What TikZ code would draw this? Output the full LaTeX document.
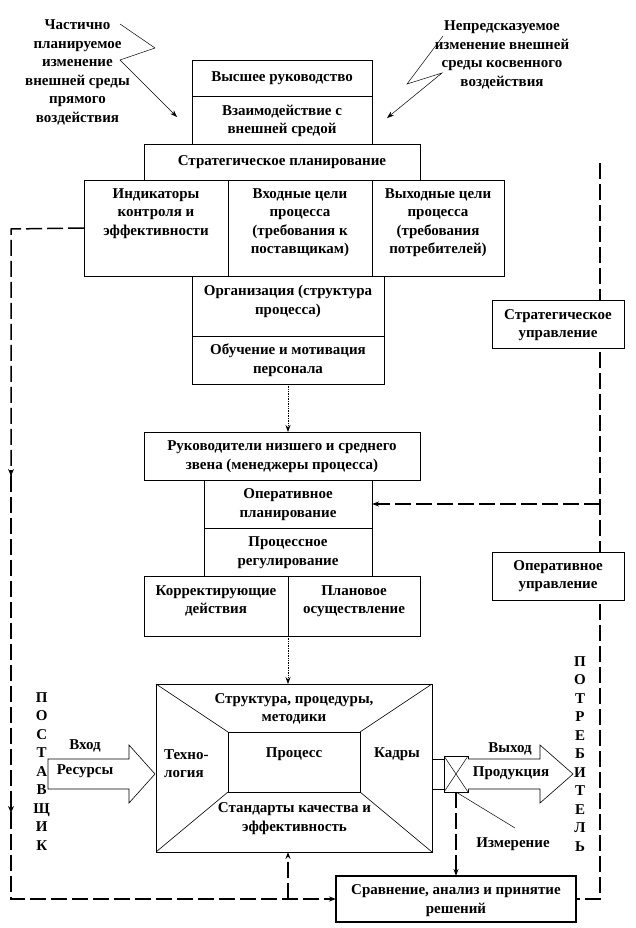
\documentclass[tikz,border=0pt]{standalone}
\usepackage{fontspec}
\setmainfont{Liberation Serif}
\usetikzlibrary{arrows.meta}
\newcommand\bx[6][]{\node[box,#1,minimum width={(#5-#3)*1pt},minimum height={(#6-#4)*1pt}] (#2) at ({(#3+#5)/2},{(#4+#6)/2}) {};}
\begin{document}
\begin{tikzpicture}[x=1pt,y=-1pt,
  box/.style={draw,line width=0.7pt,fill=white,inner sep=0pt,outer sep=0pt},
  txt/.style={align=center,inner sep=0pt,font=\fontsize{15}{18.5}\selectfont\bfseries},
  dl/.style={line width=1.5pt,dash pattern=on 16pt off 5pt},
  dt/.style={line width=0.7pt,densely dotted},
  tip/.style={-{Stealth[length=7pt,width=5pt]}},
  midtip/.style={-{Stealth[length=7pt,width=6pt]},line width=1.5pt},
  ann/.style={line width=0.5pt},
  bigarrow/.style={draw,line width=0.6pt,fill=white}]
\useasboundingbox (0,0) rectangle (636,928);

% ---------- coordinates of the feedback loops ----------
\coordinate (lt) at (11,229);
\coordinate (lm1) at (11,476);
\coordinate (lm2) at (11,813);
\coordinate (lb) at (11,899);
\coordinate (rt) at (600,163);
\coordinate (rb) at (600,899);

% ---------- boxes ----------
\bx{topA}{192}{60}{372}{96}
\bx{topB}{192}{96}{372}{144}
\bx{strat}{144}{144}{420}{180}
\bx{ind}{84}{180}{228}{276}
\bx{inp}{228}{180}{372}{276}
\bx{outp}{372}{180}{504}{276}
\bx{org}{192}{276}{384}{336}
\bx{obuch}{192}{336}{384}{384}
\bx{ruk}{144}{432}{420}{480}
\bx{opl}{204}{480}{372}{528}
\bx{preg}{204}{528}{372}{576}
\bx{korr}{144}{576}{288}{636}
\bx{plan}{288}{576}{420}{636}
\bx{proc}{156}{684}{432}{852}
\bx{procin}{228}{732}{360}{792}
\bx{connr}{432}{759}{444}{789}
\bx{cross}{444}{756}{468}{792}
\bx[line width=2pt]{sr}{336}{876}{576}{922}

\coordinate (lm1a) at (11,470);
\coordinate (lm2a) at (11,807);
\draw[dl] (ind.west) -- (lt) -- (lm1);
\draw[midtip] (lm1a) -- (lm1);
\draw[dl] (lm1) -- (lm2);
\draw[midtip] (lm2a) -- (lm2);
\draw[dl,tip] (lm2) -- (lb) -- (sr.west);
\coordinate (br) at (korr.south east |- lb);
\draw[dl,tip] (br) -- (korr.south east |- proc.south);
\draw[dl] (rt) -- (rb) -- (sr.east);
\draw[dl,tip] (rt |- opl.east) -- (opl.east);
\draw[dl,tip] (cross.south) -- (sr.north);

\bx{stratupr}{492}{300}{624}{348}
\bx{operupr}{492}{552}{624}{600}

% process box diagonals
\draw[line width=0.6pt] (proc.north west) -- (procin.north west)
  (proc.north east) -- (procin.north east)
  (proc.south west) -- (procin.south west)
  (proc.south east) -- (procin.south east);
\draw[line width=0.5pt] (cross.north west) -- (cross.south east)
  (cross.north east) -- (cross.south west);

% dotted arrows
\draw[dt,tip] (obuch.south) -- (obuch.south |- ruk.north);
\draw[dt,tip] (korr.south east) -- (korr.south east |- proc.north);

% big arrows
\draw[bigarrow] (48,759) -- (129,759) -- (129,745) -- (155,774) -- (129,803) -- (129,789) -- (48,789) -- cycle;
\draw[bigarrow] (468,759) -- (540,759) -- (540,745) -- (573,774) -- (540,803) -- (540,789) -- (468,789);

% annotation lines
\coordinate (a1) at (120,24);
\coordinate (a2) at (155,48);
\coordinate (a3) at (120,60);
\coordinate (aL) at (177,117);
\draw[ann,tip] (a1) -- (a2) -- (a3) -- (aL);
\coordinate (b1) at (443,36);
\coordinate (b2) at (407,84);
\coordinate (b3) at (442,73);
\coordinate (bR) at (387,118);
\draw[ann,tip] (b1) -- (b2) -- (b3) -- (bR);
\coordinate (meas) at (515,828);
\draw[ann] (cross.south) -- (meas);

% ---------- texts ----------
\node[txt] (t1) at (282,78) {Высшее руководство};
\node[txt] (t2) at (282,121) {Взаимодействие с\\внешней средой};
\node[txt] (t3) at (282,162) {Стратегическое планирование};
\node[txt] (t4) at (156,213.5) {Индикаторы\\контроля и\\эффективности};
\node[txt] (t5) at (300,222.5) {Входные цели\\процесса\\(требования к\\поставщикам)};
\node[txt] (t6) at (438,222.5) {Выходные цели\\процесса\\(требования\\потребителей)};
\node[txt] (t7) at (288,301.5) {Организация (структура\\процесса)};
\node[txt] (t8) at (288,360) {Обучение и мотивация\\персонала};
\node[txt] (t9) at (282,456.7) {Руководители низшего и среднего\\звена (менеджеры процесса)};
\node[txt] (t10) at (288,504.5) {Оперативное\\планирование};
\node[txt] (t11) at (288,552.5) {Процессное\\регулирование};
\node[txt] (t12) at (216,601) {Корректирующие\\действия};
\node[txt] (t13) at (354,601) {Плановое\\осуществление};
\node[txt] (t14) at (558,325) {Стратегическое\\управление};
\node[txt] (t15) at (558,576) {Оперативное\\управление};
\node[txt] (t16) at (77.5,72.5) {Частично\\планируемое\\изменение\\внешней среды\\прямого\\воздействия};
\node[txt] (t17) at (502,55) {Непредсказуемое\\изменение внешней\\среды косвенного\\воздействия};
\node[txt] (t18) at (294,709) {Структура, процедуры,\\методики};
\node[txt,align=left,anchor=west] (t19) at (164,763.5) {Техно-\\логия};
\node[txt] (t20) at (294,754) {Процесс};
\node[txt] (t21) at (397,754) {Кадры};
\node[txt] (t22) at (294.5,818.5) {Стандарты качества и\\эффективность};
\node[txt] (t23) at (85,746) {Вход};
\node[txt] (t24) at (85,771) {Ресурсы};
\node[txt] (t25) at (510,749) {Выход};
\node[txt] (t26) at (511,772.7) {Продукция};
\node[txt] (t27) at (41.7,771.3) {П\\О\\С\\Т\\А\\В\\Щ\\И\\К};
\node[txt] (t28) at (580,754) {П\\О\\Т\\Р\\Е\\Б\\И\\Т\\Е\\Л\\Ь};
\node[txt] (t29) at (513,844) {Измерение};
\node[txt] (t30) at (456,900.5) {Сравнение, анализ и принятие\\решений};
\end{tikzpicture}
\end{document}
